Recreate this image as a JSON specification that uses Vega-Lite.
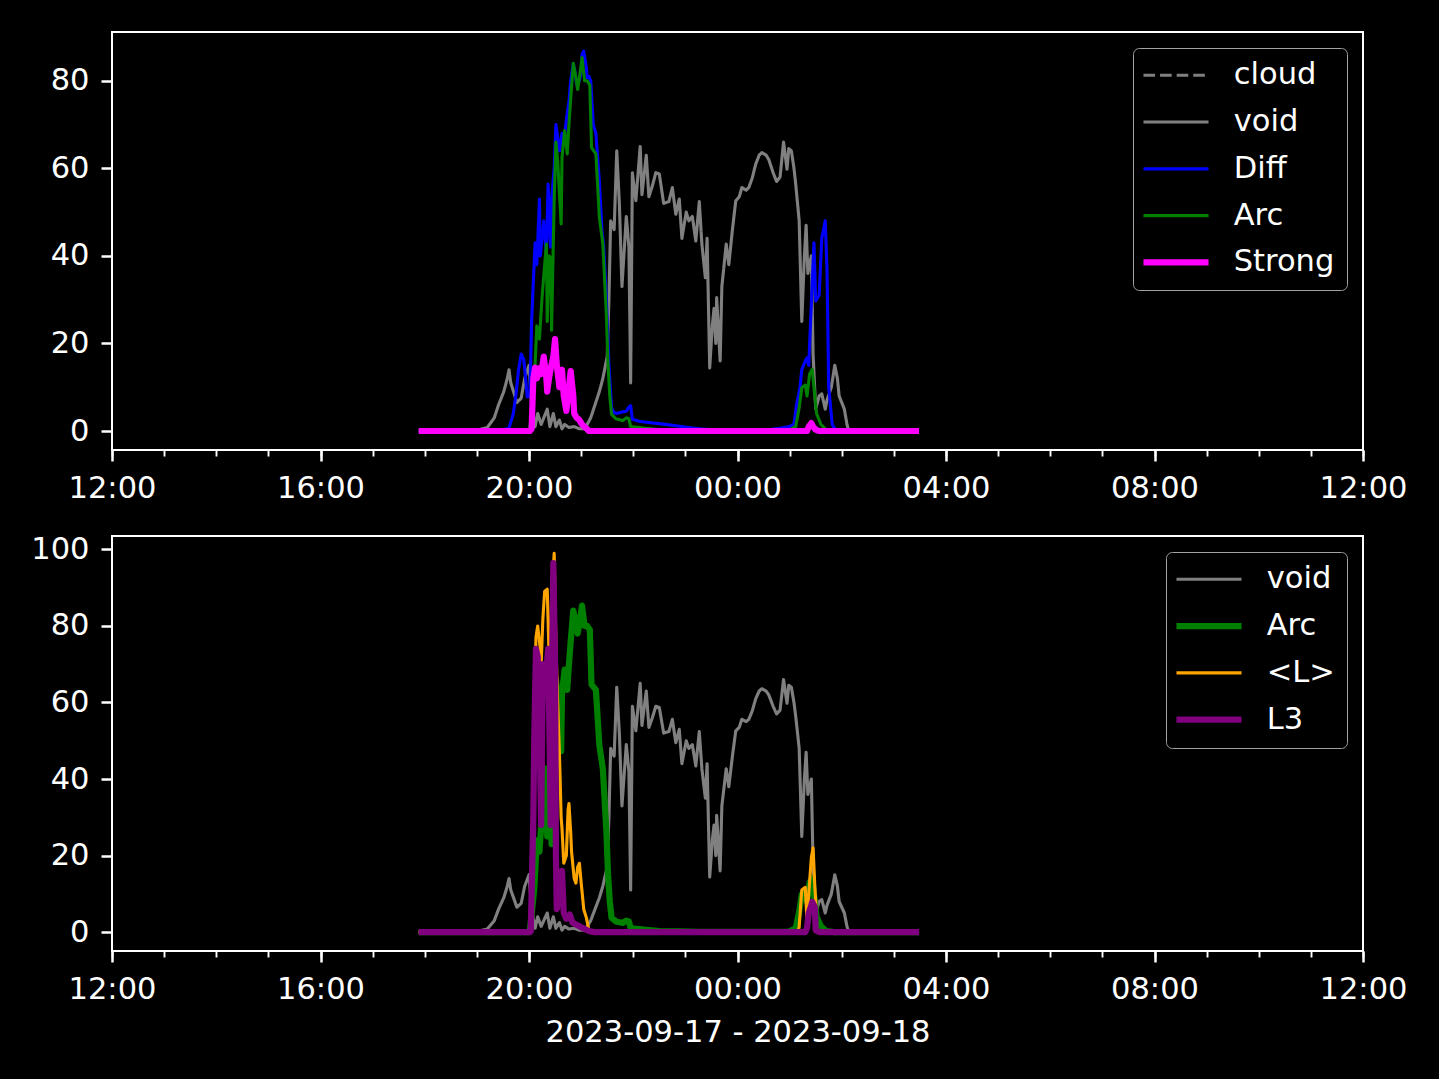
{
  "$schema": "https://vega.github.io/schema/vega-lite/v6.json",
  "background": "black",
  "padding": {"left": 11, "top": 31, "right": 31, "bottom": 30},
  "spacing": 28,
  "config": {
    "font": "DejaVu Sans",
    "view": {"stroke": "white", "strokeWidth": 2},
    "axis": {"labelColor": "white", "labelFont": "DejaVu Sans", "labelFontSize": 30.5, "tickColor": "white", "tickWidth": 2.5, "tickSize": 11, "labelPadding": 12, "domain": false, "grid": false, "titleColor": "white", "titleFont": "DejaVu Sans", "titleFontSize": 30.5, "titleFontWeight": "normal"},
    "line": {"strokeJoin": "round"}
  },
  "resolve": {"scale": {"color": "independent", "strokeWidth": "independent", "strokeDash": "independent"}},
  "datasets": {
    "d": [
      {"s":"void","t":"2023-09-17T17:53","v":0.1},
      {"s":"void","t":"2023-09-17T18:16","v":0.1},
      {"s":"void","t":"2023-09-17T18:39","v":0.2},
      {"s":"void","t":"2023-09-17T19:02","v":0.3},
      {"s":"void","t":"2023-09-17T19:12","v":0.8},
      {"s":"void","t":"2023-09-17T19:20","v":3},
      {"s":"void","t":"2023-09-17T19:25","v":6},
      {"s":"void","t":"2023-09-17T19:31","v":9},
      {"s":"void","t":"2023-09-17T19:35","v":12},
      {"s":"void","t":"2023-09-17T19:37","v":14},
      {"s":"void","t":"2023-09-17T19:39","v":11},
      {"s":"void","t":"2023-09-17T19:43","v":8.5},
      {"s":"void","t":"2023-09-17T19:46","v":6.5},
      {"s":"void","t":"2023-09-17T19:51","v":7.5},
      {"s":"void","t":"2023-09-17T19:55","v":12},
      {"s":"void","t":"2023-09-17T20:00","v":15},
      {"s":"void","t":"2023-09-17T20:03","v":6},
      {"s":"void","t":"2023-09-17T20:07","v":1},
      {"s":"void","t":"2023-09-17T20:10","v":4},
      {"s":"void","t":"2023-09-17T20:14","v":1.5},
      {"s":"void","t":"2023-09-17T20:17","v":3},
      {"s":"void","t":"2023-09-17T20:21","v":5},
      {"s":"void","t":"2023-09-17T20:24","v":1},
      {"s":"void","t":"2023-09-17T20:28","v":4},
      {"s":"void","t":"2023-09-17T20:31","v":1},
      {"s":"void","t":"2023-09-17T20:35","v":2.5},
      {"s":"void","t":"2023-09-17T20:38","v":0.5},
      {"s":"void","t":"2023-09-17T20:41","v":1.5},
      {"s":"void","t":"2023-09-17T20:46","v":0.8},
      {"s":"void","t":"2023-09-17T20:52","v":1},
      {"s":"void","t":"2023-09-17T20:58","v":0.5},
      {"s":"void","t":"2023-09-17T21:03","v":0.5},
      {"s":"void","t":"2023-09-17T21:07","v":1.5},
      {"s":"void","t":"2023-09-17T21:11","v":3},
      {"s":"void","t":"2023-09-17T21:16","v":6},
      {"s":"void","t":"2023-09-17T21:21","v":9},
      {"s":"void","t":"2023-09-17T21:25","v":12},
      {"s":"void","t":"2023-09-17T21:30","v":17},
      {"s":"void","t":"2023-09-17T21:32","v":30},
      {"s":"void","t":"2023-09-17T21:34","v":48},
      {"s":"void","t":"2023-09-17T21:38","v":46},
      {"s":"void","t":"2023-09-17T21:41","v":64},
      {"s":"void","t":"2023-09-17T21:44","v":52},
      {"s":"void","t":"2023-09-17T21:47","v":33},
      {"s":"void","t":"2023-09-17T21:52","v":49},
      {"s":"void","t":"2023-09-17T21:55","v":42},
      {"s":"void","t":"2023-09-17T21:57","v":11},
      {"s":"void","t":"2023-09-17T21:59","v":59},
      {"s":"void","t":"2023-09-17T22:03","v":52.6},
      {"s":"void","t":"2023-09-17T22:08","v":65},
      {"s":"void","t":"2023-09-17T22:10","v":54},
      {"s":"void","t":"2023-09-17T22:15","v":63},
      {"s":"void","t":"2023-09-17T22:18","v":53.5},
      {"s":"void","t":"2023-09-17T22:22","v":56},
      {"s":"void","t":"2023-09-17T22:26","v":59},
      {"s":"void","t":"2023-09-17T22:30","v":58.7},
      {"s":"void","t":"2023-09-17T22:35","v":52},
      {"s":"void","t":"2023-09-17T22:41","v":52.4},
      {"s":"void","t":"2023-09-17T22:45","v":55.6},
      {"s":"void","t":"2023-09-17T22:49","v":49.5},
      {"s":"void","t":"2023-09-17T22:53","v":53},
      {"s":"void","t":"2023-09-17T22:56","v":44},
      {"s":"void","t":"2023-09-17T23:01","v":50},
      {"s":"void","t":"2023-09-17T23:04","v":48},
      {"s":"void","t":"2023-09-17T23:08","v":49},
      {"s":"void","t":"2023-09-17T23:12","v":43.4},
      {"s":"void","t":"2023-09-17T23:16","v":52.4},
      {"s":"void","t":"2023-09-17T23:19","v":42.7},
      {"s":"void","t":"2023-09-17T23:23","v":35},
      {"s":"void","t":"2023-09-17T23:25","v":44},
      {"s":"void","t":"2023-09-17T23:28","v":14.4},
      {"s":"void","t":"2023-09-17T23:31","v":24},
      {"s":"void","t":"2023-09-17T23:33","v":28},
      {"s":"void","t":"2023-09-17T23:35","v":20},
      {"s":"void","t":"2023-09-17T23:36","v":30.5},
      {"s":"void","t":"2023-09-17T23:40","v":16},
      {"s":"void","t":"2023-09-17T23:42","v":33},
      {"s":"void","t":"2023-09-17T23:47","v":42.7},
      {"s":"void","t":"2023-09-17T23:50","v":38},
      {"s":"void","t":"2023-09-17T23:54","v":45.7},
      {"s":"void","t":"2023-09-17T23:58","v":52.6},
      {"s":"void","t":"2023-09-18T00:02","v":53.5},
      {"s":"void","t":"2023-09-18T00:05","v":55.6},
      {"s":"void","t":"2023-09-18T00:10","v":55},
      {"s":"void","t":"2023-09-18T00:13","v":55.6},
      {"s":"void","t":"2023-09-18T00:17","v":57.8},
      {"s":"void","t":"2023-09-18T00:21","v":61},
      {"s":"void","t":"2023-09-18T00:25","v":63},
      {"s":"void","t":"2023-09-18T00:28","v":63.6},
      {"s":"void","t":"2023-09-18T00:33","v":63},
      {"s":"void","t":"2023-09-18T00:36","v":62},
      {"s":"void","t":"2023-09-18T00:41","v":59},
      {"s":"void","t":"2023-09-18T00:45","v":57},
      {"s":"void","t":"2023-09-18T00:49","v":58},
      {"s":"void","t":"2023-09-18T00:53","v":66},
      {"s":"void","t":"2023-09-18T00:57","v":59.8},
      {"s":"void","t":"2023-09-18T00:59","v":64.5},
      {"s":"void","t":"2023-09-18T01:02","v":64},
      {"s":"void","t":"2023-09-18T01:05","v":60},
      {"s":"void","t":"2023-09-18T01:07","v":56.4},
      {"s":"void","t":"2023-09-18T01:11","v":48},
      {"s":"void","t":"2023-09-18T01:14","v":25},
      {"s":"void","t":"2023-09-18T01:17","v":40},
      {"s":"void","t":"2023-09-18T01:19","v":47},
      {"s":"void","t":"2023-09-18T01:21","v":36},
      {"s":"void","t":"2023-09-18T01:25","v":40},
      {"s":"void","t":"2023-09-18T01:27","v":17.5},
      {"s":"void","t":"2023-09-18T01:30","v":5},
      {"s":"void","t":"2023-09-18T01:34","v":8},
      {"s":"void","t":"2023-09-18T01:37","v":8.5},
      {"s":"void","t":"2023-09-18T01:41","v":5},
      {"s":"void","t":"2023-09-18T01:43","v":7},
      {"s":"void","t":"2023-09-18T01:48","v":10},
      {"s":"void","t":"2023-09-18T01:52","v":15},
      {"s":"void","t":"2023-09-18T01:55","v":12},
      {"s":"void","t":"2023-09-18T01:57","v":8},
      {"s":"void","t":"2023-09-18T02:00","v":6.5},
      {"s":"void","t":"2023-09-18T02:03","v":5},
      {"s":"void","t":"2023-09-18T02:06","v":1.5},
      {"s":"void","t":"2023-09-18T02:08","v":0},
      {"s":"void","t":"2023-09-18T03:29","v":0},

      {"s":"Diff","t":"2023-09-17T17:53","v":0},
      {"s":"Diff","t":"2023-09-17T19:25","v":0.1},
      {"s":"Diff","t":"2023-09-17T19:31","v":0.3},
      {"s":"Diff","t":"2023-09-17T19:37","v":0.7},
      {"s":"Diff","t":"2023-09-17T19:42","v":4},
      {"s":"Diff","t":"2023-09-17T19:45","v":8.4},
      {"s":"Diff","t":"2023-09-17T19:48","v":14},
      {"s":"Diff","t":"2023-09-17T19:51","v":17.6},
      {"s":"Diff","t":"2023-09-17T19:54","v":16.3},
      {"s":"Diff","t":"2023-09-17T19:58","v":7.8},
      {"s":"Diff","t":"2023-09-17T20:01","v":8},
      {"s":"Diff","t":"2023-09-17T20:03","v":25},
      {"s":"Diff","t":"2023-09-17T20:07","v":43},
      {"s":"Diff","t":"2023-09-17T20:09","v":38},
      {"s":"Diff","t":"2023-09-17T20:12","v":53},
      {"s":"Diff","t":"2023-09-17T20:13","v":40},
      {"s":"Diff","t":"2023-09-17T20:17","v":48},
      {"s":"Diff","t":"2023-09-17T20:20","v":40},
      {"s":"Diff","t":"2023-09-17T20:22","v":56.4},
      {"s":"Diff","t":"2023-09-17T20:24","v":45},
      {"s":"Diff","t":"2023-09-17T20:25","v":42},
      {"s":"Diff","t":"2023-09-17T20:26","v":53},
      {"s":"Diff","t":"2023-09-17T20:29","v":60},
      {"s":"Diff","t":"2023-09-17T20:31","v":70},
      {"s":"Diff","t":"2023-09-17T20:35","v":64},
      {"s":"Diff","t":"2023-09-17T20:38","v":68},
      {"s":"Diff","t":"2023-09-17T20:40","v":66},
      {"s":"Diff","t":"2023-09-17T20:43","v":71},
      {"s":"Diff","t":"2023-09-17T20:46","v":75.4},
      {"s":"Diff","t":"2023-09-17T20:48","v":80},
      {"s":"Diff","t":"2023-09-17T20:51","v":84},
      {"s":"Diff","t":"2023-09-17T20:53","v":82},
      {"s":"Diff","t":"2023-09-17T20:55","v":79},
      {"s":"Diff","t":"2023-09-17T20:58","v":80},
      {"s":"Diff","t":"2023-09-17T21:00","v":82},
      {"s":"Diff","t":"2023-09-17T21:01","v":86},
      {"s":"Diff","t":"2023-09-17T21:03","v":86.8},
      {"s":"Diff","t":"2023-09-17T21:06","v":83},
      {"s":"Diff","t":"2023-09-17T21:07","v":80.7},
      {"s":"Diff","t":"2023-09-17T21:09","v":81},
      {"s":"Diff","t":"2023-09-17T21:11","v":80},
      {"s":"Diff","t":"2023-09-17T21:14","v":70},
      {"s":"Diff","t":"2023-09-17T21:17","v":68},
      {"s":"Diff","t":"2023-09-17T21:21","v":57},
      {"s":"Diff","t":"2023-09-17T21:24","v":45.7},
      {"s":"Diff","t":"2023-09-17T21:26","v":42},
      {"s":"Diff","t":"2023-09-17T21:29","v":30.5},
      {"s":"Diff","t":"2023-09-17T21:32","v":15},
      {"s":"Diff","t":"2023-09-17T21:35","v":5.3},
      {"s":"Diff","t":"2023-09-17T21:38","v":4.2},
      {"s":"Diff","t":"2023-09-17T21:41","v":4},
      {"s":"Diff","t":"2023-09-17T21:46","v":4.3},
      {"s":"Diff","t":"2023-09-17T21:52","v":4.5},
      {"s":"Diff","t":"2023-09-17T21:55","v":5.5},
      {"s":"Diff","t":"2023-09-17T21:57","v":5.8},
      {"s":"Diff","t":"2023-09-17T21:59","v":2.7},
      {"s":"Diff","t":"2023-09-17T22:07","v":2.2},
      {"s":"Diff","t":"2023-09-17T22:15","v":2},
      {"s":"Diff","t":"2023-09-17T22:24","v":1.8},
      {"s":"Diff","t":"2023-09-17T22:38","v":1.5},
      {"s":"Diff","t":"2023-09-17T22:53","v":1.1},
      {"s":"Diff","t":"2023-09-17T23:04","v":0.8},
      {"s":"Diff","t":"2023-09-17T23:16","v":0.5},
      {"s":"Diff","t":"2023-09-17T23:31","v":0.3},
      {"s":"Diff","t":"2023-09-18T00:02","v":0.2},
      {"s":"Diff","t":"2023-09-18T00:36","v":0.3},
      {"s":"Diff","t":"2023-09-18T00:48","v":0.6},
      {"s":"Diff","t":"2023-09-18T00:59","v":1},
      {"s":"Diff","t":"2023-09-18T01:05","v":1.5},
      {"s":"Diff","t":"2023-09-18T01:08","v":6},
      {"s":"Diff","t":"2023-09-18T01:12","v":10},
      {"s":"Diff","t":"2023-09-18T01:14","v":14},
      {"s":"Diff","t":"2023-09-18T01:18","v":16},
      {"s":"Diff","t":"2023-09-18T01:20","v":16.7},
      {"s":"Diff","t":"2023-09-18T01:22","v":15},
      {"s":"Diff","t":"2023-09-18T01:25","v":29},
      {"s":"Diff","t":"2023-09-18T01:28","v":43},
      {"s":"Diff","t":"2023-09-18T01:30","v":29.7},
      {"s":"Diff","t":"2023-09-18T01:34","v":31},
      {"s":"Diff","t":"2023-09-18T01:37","v":44},
      {"s":"Diff","t":"2023-09-18T01:41","v":48},
      {"s":"Diff","t":"2023-09-18T01:43","v":37},
      {"s":"Diff","t":"2023-09-18T01:45","v":10},
      {"s":"Diff","t":"2023-09-18T01:49","v":1.5},
      {"s":"Diff","t":"2023-09-18T01:52","v":0.5},
      {"s":"Diff","t":"2023-09-18T01:57","v":0.2},
      {"s":"Diff","t":"2023-09-18T02:08","v":0},
      {"s":"Diff","t":"2023-09-18T03:29","v":0},

      {"s":"Arc","t":"2023-09-17T17:53","v":0},
      {"s":"Arc","t":"2023-09-17T20:00","v":0},
      {"s":"Arc","t":"2023-09-17T20:01","v":0.5},
      {"s":"Arc","t":"2023-09-17T20:06","v":11},
      {"s":"Arc","t":"2023-09-17T20:09","v":24},
      {"s":"Arc","t":"2023-09-17T20:12","v":21},
      {"s":"Arc","t":"2023-09-17T20:15","v":30.5},
      {"s":"Arc","t":"2023-09-17T20:20","v":42.7},
      {"s":"Arc","t":"2023-09-17T20:21","v":25},
      {"s":"Arc","t":"2023-09-17T20:23","v":40},
      {"s":"Arc","t":"2023-09-17T20:25","v":39.6},
      {"s":"Arc","t":"2023-09-17T20:26","v":23},
      {"s":"Arc","t":"2023-09-17T20:29","v":53},
      {"s":"Arc","t":"2023-09-17T20:31","v":66},
      {"s":"Arc","t":"2023-09-17T20:33","v":61.7},
      {"s":"Arc","t":"2023-09-17T20:37","v":47.3},
      {"s":"Arc","t":"2023-09-17T20:38","v":62.5},
      {"s":"Arc","t":"2023-09-17T20:41","v":68.6},
      {"s":"Arc","t":"2023-09-17T20:44","v":63.3},
      {"s":"Arc","t":"2023-09-17T20:46","v":70},
      {"s":"Arc","t":"2023-09-17T20:48","v":76},
      {"s":"Arc","t":"2023-09-17T20:51","v":84},
      {"s":"Arc","t":"2023-09-17T20:54","v":80.7},
      {"s":"Arc","t":"2023-09-17T20:56","v":78},
      {"s":"Arc","t":"2023-09-17T20:59","v":82},
      {"s":"Arc","t":"2023-09-17T21:01","v":85.3},
      {"s":"Arc","t":"2023-09-17T21:04","v":80},
      {"s":"Arc","t":"2023-09-17T21:07","v":80},
      {"s":"Arc","t":"2023-09-17T21:10","v":79},
      {"s":"Arc","t":"2023-09-17T21:12","v":64.7},
      {"s":"Arc","t":"2023-09-17T21:17","v":63.3},
      {"s":"Arc","t":"2023-09-17T21:21","v":48.8},
      {"s":"Arc","t":"2023-09-17T21:25","v":42.7},
      {"s":"Arc","t":"2023-09-17T21:29","v":26.7},
      {"s":"Arc","t":"2023-09-17T21:31","v":15},
      {"s":"Arc","t":"2023-09-17T21:33","v":8},
      {"s":"Arc","t":"2023-09-17T21:35","v":3.8},
      {"s":"Arc","t":"2023-09-17T21:40","v":2.8},
      {"s":"Arc","t":"2023-09-17T21:44","v":2.6},
      {"s":"Arc","t":"2023-09-17T21:48","v":2.4},
      {"s":"Arc","t":"2023-09-17T21:52","v":3},
      {"s":"Arc","t":"2023-09-17T21:55","v":2.8},
      {"s":"Arc","t":"2023-09-17T21:57","v":1},
      {"s":"Arc","t":"2023-09-17T22:07","v":0.8},
      {"s":"Arc","t":"2023-09-17T22:15","v":0.6},
      {"s":"Arc","t":"2023-09-17T22:30","v":0.3},
      {"s":"Arc","t":"2023-09-17T22:53","v":0.2},
      {"s":"Arc","t":"2023-09-17T23:16","v":0.1},
      {"s":"Arc","t":"2023-09-18T00:59","v":0.1},
      {"s":"Arc","t":"2023-09-18T01:07","v":1},
      {"s":"Arc","t":"2023-09-18T01:11","v":5.3},
      {"s":"Arc","t":"2023-09-18T01:14","v":9.9},
      {"s":"Arc","t":"2023-09-18T01:18","v":10.5},
      {"s":"Arc","t":"2023-09-18T01:20","v":8},
      {"s":"Arc","t":"2023-09-18T01:23","v":13},
      {"s":"Arc","t":"2023-09-18T01:26","v":14.1},
      {"s":"Arc","t":"2023-09-18T01:29","v":8},
      {"s":"Arc","t":"2023-09-18T01:31","v":4},
      {"s":"Arc","t":"2023-09-18T01:36","v":1.5},
      {"s":"Arc","t":"2023-09-18T01:42","v":0.3},
      {"s":"Arc","t":"2023-09-18T01:51","v":0},
      {"s":"Arc","t":"2023-09-18T03:29","v":0},

      {"s":"Strong","t":"2023-09-17T17:53","v":0},
      {"s":"Strong","t":"2023-09-17T20:01","v":0},
      {"s":"Strong","t":"2023-09-17T20:03","v":0.5},
      {"s":"Strong","t":"2023-09-17T20:05","v":12},
      {"s":"Strong","t":"2023-09-17T20:07","v":14.5},
      {"s":"Strong","t":"2023-09-17T20:09","v":12},
      {"s":"Strong","t":"2023-09-17T20:12","v":14.3},
      {"s":"Strong","t":"2023-09-17T20:14","v":13},
      {"s":"Strong","t":"2023-09-17T20:17","v":17},
      {"s":"Strong","t":"2023-09-17T20:20","v":12},
      {"s":"Strong","t":"2023-09-17T20:21","v":9},
      {"s":"Strong","t":"2023-09-17T20:23","v":12},
      {"s":"Strong","t":"2023-09-17T20:25","v":14.3},
      {"s":"Strong","t":"2023-09-17T20:28","v":17},
      {"s":"Strong","t":"2023-09-17T20:30","v":21},
      {"s":"Strong","t":"2023-09-17T20:32","v":15},
      {"s":"Strong","t":"2023-09-17T20:35","v":10},
      {"s":"Strong","t":"2023-09-17T20:37","v":13},
      {"s":"Strong","t":"2023-09-17T20:38","v":14},
      {"s":"Strong","t":"2023-09-17T20:40","v":8},
      {"s":"Strong","t":"2023-09-17T20:43","v":4.6},
      {"s":"Strong","t":"2023-09-17T20:45","v":8},
      {"s":"Strong","t":"2023-09-17T20:47","v":12},
      {"s":"Strong","t":"2023-09-17T20:48","v":13.7},
      {"s":"Strong","t":"2023-09-17T20:51","v":8},
      {"s":"Strong","t":"2023-09-17T20:52","v":4},
      {"s":"Strong","t":"2023-09-17T20:55","v":3},
      {"s":"Strong","t":"2023-09-17T20:58","v":2.5},
      {"s":"Strong","t":"2023-09-17T21:01","v":1.5},
      {"s":"Strong","t":"2023-09-17T21:06","v":0.6},
      {"s":"Strong","t":"2023-09-17T21:09","v":0},
      {"s":"Strong","t":"2023-09-18T01:20","v":0},
      {"s":"Strong","t":"2023-09-18T01:22","v":1},
      {"s":"Strong","t":"2023-09-18T01:25","v":1.8},
      {"s":"Strong","t":"2023-09-18T01:27","v":1},
      {"s":"Strong","t":"2023-09-18T01:30","v":0.3},
      {"s":"Strong","t":"2023-09-18T01:34","v":0},
      {"s":"Strong","t":"2023-09-18T03:29","v":0},

      {"s":"<L>","t":"2023-09-17T17:53","v":0},
      {"s":"<L>","t":"2023-09-17T20:01","v":0},
      {"s":"<L>","t":"2023-09-17T20:03","v":5},
      {"s":"<L>","t":"2023-09-17T20:06","v":50},
      {"s":"<L>","t":"2023-09-17T20:08","v":77},
      {"s":"<L>","t":"2023-09-17T20:10","v":80},
      {"s":"<L>","t":"2023-09-17T20:13","v":74},
      {"s":"<L>","t":"2023-09-17T20:14","v":70},
      {"s":"<L>","t":"2023-09-17T20:16","v":82},
      {"s":"<L>","t":"2023-09-17T20:18","v":89},
      {"s":"<L>","t":"2023-09-17T20:21","v":89.6},
      {"s":"<L>","t":"2023-09-17T20:23","v":73},
      {"s":"<L>","t":"2023-09-17T20:25","v":72},
      {"s":"<L>","t":"2023-09-17T20:26","v":88},
      {"s":"<L>","t":"2023-09-17T20:29","v":99},
      {"s":"<L>","t":"2023-09-17T20:31","v":75},
      {"s":"<L>","t":"2023-09-17T20:33","v":60},
      {"s":"<L>","t":"2023-09-17T20:35","v":47},
      {"s":"<L>","t":"2023-09-17T20:37","v":30},
      {"s":"<L>","t":"2023-09-17T20:38","v":27},
      {"s":"<L>","t":"2023-09-17T20:40","v":18},
      {"s":"<L>","t":"2023-09-17T20:43","v":20},
      {"s":"<L>","t":"2023-09-17T20:45","v":32},
      {"s":"<L>","t":"2023-09-17T20:46","v":33.6},
      {"s":"<L>","t":"2023-09-17T20:48","v":26},
      {"s":"<L>","t":"2023-09-17T20:49","v":21},
      {"s":"<L>","t":"2023-09-17T20:52","v":14},
      {"s":"<L>","t":"2023-09-17T20:54","v":12.8},
      {"s":"<L>","t":"2023-09-17T20:56","v":17},
      {"s":"<L>","t":"2023-09-17T20:58","v":18},
      {"s":"<L>","t":"2023-09-17T21:00","v":13},
      {"s":"<L>","t":"2023-09-17T21:01","v":10.7},
      {"s":"<L>","t":"2023-09-17T21:03","v":6},
      {"s":"<L>","t":"2023-09-17T21:06","v":3.8},
      {"s":"<L>","t":"2023-09-17T21:09","v":0.5},
      {"s":"<L>","t":"2023-09-17T21:12","v":0},
      {"s":"<L>","t":"2023-09-18T01:09","v":0},
      {"s":"<L>","t":"2023-09-18T01:11","v":1.3},
      {"s":"<L>","t":"2023-09-18T01:13","v":8},
      {"s":"<L>","t":"2023-09-18T01:14","v":11},
      {"s":"<L>","t":"2023-09-18T01:18","v":11.7},
      {"s":"<L>","t":"2023-09-18T01:20","v":3},
      {"s":"<L>","t":"2023-09-18T01:22","v":10},
      {"s":"<L>","t":"2023-09-18T01:25","v":19.5},
      {"s":"<L>","t":"2023-09-18T01:27","v":22},
      {"s":"<L>","t":"2023-09-18T01:29","v":12},
      {"s":"<L>","t":"2023-09-18T01:30","v":8.3},
      {"s":"<L>","t":"2023-09-18T01:31","v":0.5},
      {"s":"<L>","t":"2023-09-18T01:34","v":0},
      {"s":"<L>","t":"2023-09-18T03:29","v":0},

      {"s":"L3","t":"2023-09-17T17:53","v":0},
      {"s":"L3","t":"2023-09-17T20:01","v":0},
      {"s":"L3","t":"2023-09-17T20:02","v":0.2},
      {"s":"L3","t":"2023-09-17T20:05","v":30},
      {"s":"L3","t":"2023-09-17T20:06","v":50},
      {"s":"L3","t":"2023-09-17T20:08","v":74},
      {"s":"L3","t":"2023-09-17T20:10","v":72},
      {"s":"L3","t":"2023-09-17T20:12","v":55},
      {"s":"L3","t":"2023-09-17T20:14","v":28},
      {"s":"L3","t":"2023-09-17T20:16","v":70},
      {"s":"L3","t":"2023-09-17T20:20","v":68},
      {"s":"L3","t":"2023-09-17T20:22","v":74},
      {"s":"L3","t":"2023-09-17T20:24","v":45},
      {"s":"L3","t":"2023-09-17T20:25","v":28},
      {"s":"L3","t":"2023-09-17T20:26","v":60},
      {"s":"L3","t":"2023-09-17T20:28","v":96.4},
      {"s":"L3","t":"2023-09-17T20:30","v":70},
      {"s":"L3","t":"2023-09-17T20:31","v":20},
      {"s":"L3","t":"2023-09-17T20:32","v":6},
      {"s":"L3","t":"2023-09-17T20:35","v":9},
      {"s":"L3","t":"2023-09-17T20:36","v":12},
      {"s":"L3","t":"2023-09-17T20:38","v":16},
      {"s":"L3","t":"2023-09-17T20:40","v":5},
      {"s":"L3","t":"2023-09-17T20:43","v":3.5},
      {"s":"L3","t":"2023-09-17T20:47","v":4.6},
      {"s":"L3","t":"2023-09-17T20:50","v":2.5},
      {"s":"L3","t":"2023-09-17T20:54","v":2},
      {"s":"L3","t":"2023-09-17T21:00","v":1.3},
      {"s":"L3","t":"2023-09-17T21:09","v":0.3},
      {"s":"L3","t":"2023-09-17T21:15","v":0},
      {"s":"L3","t":"2023-09-18T01:18","v":0},
      {"s":"L3","t":"2023-09-18T01:20","v":1},
      {"s":"L3","t":"2023-09-18T01:22","v":5},
      {"s":"L3","t":"2023-09-18T01:25","v":7},
      {"s":"L3","t":"2023-09-18T01:26","v":7.9},
      {"s":"L3","t":"2023-09-18T01:28","v":7},
      {"s":"L3","t":"2023-09-18T01:29","v":6.5},
      {"s":"L3","t":"2023-09-18T01:30","v":0.5},
      {"s":"L3","t":"2023-09-18T01:34","v":0},
      {"s":"L3","t":"2023-09-18T03:29","v":0}
    ]
  },
  "vconcat": [
    {
      "width": 1251,
      "height": 418,
      "data": {"name": "d"},
      "encoding": {
        "x": {"field": "t", "type": "temporal", "scale": {"domain": [{"year": 2023, "month": 9, "date": 17, "hours": 12}, {"year": 2023, "month": 9, "date": 18, "hours": 12}]}, "axis": null},
        "y": {"field": "v", "type": "quantitative", "scale": {"domain": [-4.34, 91.14], "nice": false, "zero": false}, "axis": {"values": [0, 20, 40, 60, 80], "title": null, "minExtent": 100, "maxExtent": 100}},
        "color": {"field": "s", "type": "nominal", "scale": {"domain": ["cloud", "void", "Diff", "Arc", "Strong"], "range": ["#808080", "#808080", "#0000ff", "#008000", "#ff00ff"]},
          "legend": {"title": null, "orient": "top-right", "offset": 16, "labelColor": "white", "labelFont": "DejaVu Sans", "labelFontSize": 30.5, "symbolType": "M-4.2,0H4.2", "symbolSize": 240, "symbolOffset": 15.75, "labelOffset": 42.5, "rowPadding": 15.8, "padding": 12, "strokeColor": "#a3a3a3", "fillColor": "black", "cornerRadius": 6}},
        "strokeWidth": {"field": "s", "type": "nominal", "scale": {"type": "ordinal", "domain": ["cloud", "void", "Diff", "Arc", "Strong"], "range": [3.1, 3.1, 3.1, 3.1, 6.2]},
          "legend": {"title": null, "orient": "top-right", "offset": 16, "labelColor": "white", "labelFont": "DejaVu Sans", "labelFontSize": 30.5, "symbolType": "M-4.2,0H4.2", "symbolSize": 240, "symbolOffset": 15.75, "labelOffset": 42.5, "rowPadding": 15.8, "padding": 12, "strokeColor": "#a3a3a3", "fillColor": "black", "cornerRadius": 6}},
        "strokeDash": {"field": "s", "type": "nominal", "scale": {"domain": ["cloud", "void", "Diff", "Arc", "Strong"], "range": [[11.6, 5], [1, 0], [1, 0], [1, 0], [1, 0]]},
          "legend": {"title": null, "orient": "top-right", "offset": 16, "labelColor": "white", "labelFont": "DejaVu Sans", "labelFontSize": 30.5, "symbolType": "M-4.2,0H4.2", "symbolSize": 240, "symbolOffset": 15.75, "labelOffset": 42.5, "rowPadding": 15.8, "padding": 12, "strokeColor": "#a3a3a3", "fillColor": "black", "cornerRadius": 6}}
      },
      "layer": [
        {"transform": [{"filter": {"field": "s", "equal": "void"}}], "mark": {"type": "line"},
         "encoding": {"x": {"field": "t", "type": "temporal", "scale": {"domain": [{"year": 2023, "month": 9, "date": 17, "hours": 12}, {"year": 2023, "month": 9, "date": 18, "hours": 12}]},
           "axis": {"orient": "bottom", "labels": false, "title": null, "tickSize": 6, "tickWidth": 1.9, "minExtent": 50, "maxExtent": 50,
             "values": [{"year":2023,"month":9,"date":17,"hours":12},{"year":2023,"month":9,"date":17,"hours":13},{"year":2023,"month":9,"date":17,"hours":14},{"year":2023,"month":9,"date":17,"hours":15},{"year":2023,"month":9,"date":17,"hours":16},{"year":2023,"month":9,"date":17,"hours":17},{"year":2023,"month":9,"date":17,"hours":18},{"year":2023,"month":9,"date":17,"hours":19},{"year":2023,"month":9,"date":17,"hours":20},{"year":2023,"month":9,"date":17,"hours":21},{"year":2023,"month":9,"date":17,"hours":22},{"year":2023,"month":9,"date":17,"hours":23},{"year":2023,"month":9,"date":18,"hours":0},{"year":2023,"month":9,"date":18,"hours":1},{"year":2023,"month":9,"date":18,"hours":2},{"year":2023,"month":9,"date":18,"hours":3},{"year":2023,"month":9,"date":18,"hours":4},{"year":2023,"month":9,"date":18,"hours":5},{"year":2023,"month":9,"date":18,"hours":6},{"year":2023,"month":9,"date":18,"hours":7},{"year":2023,"month":9,"date":18,"hours":8},{"year":2023,"month":9,"date":18,"hours":9},{"year":2023,"month":9,"date":18,"hours":10},{"year":2023,"month":9,"date":18,"hours":11},{"year":2023,"month":9,"date":18,"hours":12}]}}}},
        {"transform": [{"filter": {"field": "s", "equal": "Diff"}}], "mark": {"type": "line"}, "encoding": {}},
        {"transform": [{"filter": {"field": "s", "equal": "Arc"}}], "mark": {"type": "line"}, "encoding": {}},
        {"transform": [{"filter": {"field": "s", "equal": "Strong"}}], "mark": {"type": "line"},
         "encoding": {"x": {"field": "t", "type": "temporal", "scale": {"domain": [{"year": 2023, "month": 9, "date": 17, "hours": 12}, {"year": 2023, "month": 9, "date": 18, "hours": 12}]},
           "axis": {"orient": "bottom", "format": "%H:%M", "title": null, "labelFlush": false, "labelOverlap": false, "minExtent": 50, "maxExtent": 50,
             "values": [{"year":2023,"month":9,"date":17,"hours":12},{"year":2023,"month":9,"date":17,"hours":16},{"year":2023,"month":9,"date":17,"hours":20},{"year":2023,"month":9,"date":18,"hours":0},{"year":2023,"month":9,"date":18,"hours":4},{"year":2023,"month":9,"date":18,"hours":8},{"year":2023,"month":9,"date":18,"hours":12}]}}}}
      ],
      "resolve": {"axis": {"x": "independent"}}
    },
    {
      "width": 1251,
      "height": 415,
      "data": {"name": "d"},
      "encoding": {
        "x": {"field": "t", "type": "temporal", "scale": {"domain": [{"year": 2023, "month": 9, "date": 17, "hours": 12}, {"year": 2023, "month": 9, "date": 18, "hours": 12}]}, "axis": null},
        "y": {"field": "v", "type": "quantitative", "scale": {"domain": [-4.93, 103.5], "nice": false, "zero": false}, "axis": {"values": [0, 20, 40, 60, 80, 100], "title": null, "minExtent": 100, "maxExtent": 100}},
        "color": {"field": "s", "type": "nominal", "scale": {"domain": ["void", "Arc", "<L>", "L3"], "range": ["#808080", "#008000", "#ffa500", "#800080"]},
          "legend": {"title": null, "orient": "top-right", "offset": 16, "labelColor": "white", "labelFont": "DejaVu Sans", "labelFontSize": 30.5, "symbolType": "M-4.2,0H4.2", "symbolSize": 240, "symbolOffset": 15.75, "labelOffset": 42.5, "rowPadding": 15.8, "padding": 12, "strokeColor": "#a3a3a3", "fillColor": "black", "cornerRadius": 6}},
        "strokeWidth": {"field": "s", "type": "nominal", "scale": {"type": "ordinal", "domain": ["void", "Arc", "<L>", "L3"], "range": [3.1, 6.2, 3.1, 6.2]},
          "legend": {"title": null, "orient": "top-right", "offset": 16, "labelColor": "white", "labelFont": "DejaVu Sans", "labelFontSize": 30.5, "symbolType": "M-4.2,0H4.2", "symbolSize": 240, "symbolOffset": 15.75, "labelOffset": 42.5, "rowPadding": 15.8, "padding": 12, "strokeColor": "#a3a3a3", "fillColor": "black", "cornerRadius": 6}}
      },
      "layer": [
        {"transform": [{"filter": {"field": "s", "equal": "void"}}], "mark": {"type": "line"},
         "encoding": {"x": {"field": "t", "type": "temporal", "scale": {"domain": [{"year": 2023, "month": 9, "date": 17, "hours": 12}, {"year": 2023, "month": 9, "date": 18, "hours": 12}]},
           "axis": {"orient": "bottom", "labels": false, "title": null, "tickSize": 6, "tickWidth": 1.9, "minExtent": 50, "maxExtent": 50,
             "values": [{"year":2023,"month":9,"date":17,"hours":12},{"year":2023,"month":9,"date":17,"hours":13},{"year":2023,"month":9,"date":17,"hours":14},{"year":2023,"month":9,"date":17,"hours":15},{"year":2023,"month":9,"date":17,"hours":16},{"year":2023,"month":9,"date":17,"hours":17},{"year":2023,"month":9,"date":17,"hours":18},{"year":2023,"month":9,"date":17,"hours":19},{"year":2023,"month":9,"date":17,"hours":20},{"year":2023,"month":9,"date":17,"hours":21},{"year":2023,"month":9,"date":17,"hours":22},{"year":2023,"month":9,"date":17,"hours":23},{"year":2023,"month":9,"date":18,"hours":0},{"year":2023,"month":9,"date":18,"hours":1},{"year":2023,"month":9,"date":18,"hours":2},{"year":2023,"month":9,"date":18,"hours":3},{"year":2023,"month":9,"date":18,"hours":4},{"year":2023,"month":9,"date":18,"hours":5},{"year":2023,"month":9,"date":18,"hours":6},{"year":2023,"month":9,"date":18,"hours":7},{"year":2023,"month":9,"date":18,"hours":8},{"year":2023,"month":9,"date":18,"hours":9},{"year":2023,"month":9,"date":18,"hours":10},{"year":2023,"month":9,"date":18,"hours":11},{"year":2023,"month":9,"date":18,"hours":12}]}}}},
        {"transform": [{"filter": {"field": "s", "equal": "Arc"}}], "mark": {"type": "line"}, "encoding": {}},
        {"transform": [{"filter": {"field": "s", "equal": "<L>"}}], "mark": {"type": "line"}, "encoding": {}},
        {"transform": [{"filter": {"field": "s", "equal": "L3"}}], "mark": {"type": "line"},
         "encoding": {"x": {"field": "t", "type": "temporal", "scale": {"domain": [{"year": 2023, "month": 9, "date": 17, "hours": 12}, {"year": 2023, "month": 9, "date": 18, "hours": 12}]},
           "axis": {"orient": "bottom", "format": "%H:%M", "title": "2023-09-17 - 2023-09-18", "titlePadding": 16, "labelFlush": false, "labelOverlap": false, "minExtent": 50, "maxExtent": 50,
             "values": [{"year":2023,"month":9,"date":17,"hours":12},{"year":2023,"month":9,"date":17,"hours":16},{"year":2023,"month":9,"date":17,"hours":20},{"year":2023,"month":9,"date":18,"hours":0},{"year":2023,"month":9,"date":18,"hours":4},{"year":2023,"month":9,"date":18,"hours":8},{"year":2023,"month":9,"date":18,"hours":12}]}}}}
      ],
      "resolve": {"axis": {"x": "independent"}}
    }
  ]
}
